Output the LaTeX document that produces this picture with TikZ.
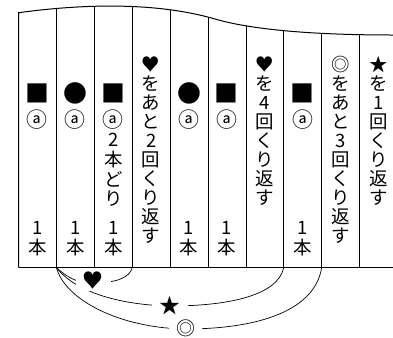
\documentclass[tikz,border=0pt]{standalone}
\usepackage{fontspec}
\newfontfamily\cjk{Noto Sans CJK JP}
\newlength\vpitch
\setlength\vpitch{19.1bp}
\newcommand\vcell[1]{\hbox to 20bp{\hss\vbox to \vpitch{\vss\hbox{#1}\vss}\hss}}
\def\vstack#1{\vbox{\offinterlineskip\vstackA#1\relax}}
\def\vstackA#1{\ifx#1\relax\else\vcell{#1}\expandafter\vstackA\fi}
\begin{document}
\begin{tikzpicture}[x=1bp,y=-1bp,
  every node/.style={inner sep=0pt},
  txt/.style={font=\cjk\fontsize{18.5}{19}\selectfont, anchor=north},
  sym/.style={font=\cjk\fontsize{24}{24}\selectfont},
  circ/.style={font=\cjk\fontsize{21}{21}\selectfont},
  border/.style={line width=1bp},
  inner/.style={line width=0.7bp},
  conn/.style={line width=0.7bp},
  lab/.style={font=\cjk\fontsize{21}{21}\selectfont, fill=white, inner xsep=7bp, inner ysep=1bp}]
\useasboundingbox (0,0) rectangle (393,338);
% columns
\begin{scope}
  \clip (18.5,270) -- (18.5,12.7) .. controls (90,3) and (160,3) .. (215,19)
        .. controls (255,30.6) and (320,35) .. (393,35) -- (393,270) -- cycle;
  \foreach \x in {56.4,94.3,132.2,170.1,208,245.9,283.8,321.7,359.6}
    \draw[inner] (\x,0) -- (\x,267.5);
\end{scope}
\draw[border] (18.5,267.5) -- (18.5,12.7) .. controls (90,3) and (160,3) .. (215,19)
      .. controls (255,30.6) and (320,35) .. (393,35);
\draw[border] (18.5,267.5) -- (393,267.5);
% coordinates at column bottoms
\coordinate (b1) at (56.4,267.5);
\coordinate (b3) at (132.2,267.5);
\coordinate (b7) at (283.8,267.5);
\coordinate (b8) at (321.7,267.5);
% symbols row
\node[sym] (s1) at (37.45,93) {■};
\node[sym] (s2) at (75.35,93) {●};
\node[sym] (s3) at (113.25,93) {■};
\node[sym] (s5) at (189.05,93) {●};
\node[sym] (s6) at (226.95,93) {■};
\node[sym] (s8) at (302.75,93) {■};
% circled a
\node[circ] (a1) at (37.45,120) {ⓐ};
\node[circ] (a2) at (75.35,120) {ⓐ};
\node[circ] (a5) at (189.05,120) {ⓐ};
\node[circ] (a6) at (226.95,120) {ⓐ};
\node[circ] (a8) at (302.75,120) {ⓐ};
% column 3 text
\node[circ] (a3) at (113.25,120) {ⓐ};
\node[txt] (t3) at (113.25,130) {\setlength\vpitch{19.5bp}\vstack{2本どり}};
% long vertical texts
\node[txt] (t4) at (151.15,54.5) {\vstack{♥をあと2回くり返す}};
\node[txt] (t7) at (264.85,54.5) {\vstack{♥を4回くり返す}};
\node[txt] (t9) at (340.65,54.5) {\vstack{◎をあと3回くり返す}};
\node[txt] (t10) at (378.5,54.5) {\vstack{★を1回くり返す}};
% bottom 1本
\node[txt] (n1) at (37.45,218.5) {\setlength\vpitch{19bp}\vstack{1本}};
\node[txt] (n2) at (75.35,218.5) {\setlength\vpitch{19bp}\vstack{1本}};
\node[txt] (n3) at (113.25,218.5) {\setlength\vpitch{19bp}\vstack{1本}};
\node[txt] (n5) at (189.05,218.5) {\setlength\vpitch{19bp}\vstack{1本}};
\node[txt] (n6) at (226.95,218.5) {\setlength\vpitch{19bp}\vstack{1本}};
\node[txt] (n8) at (302.75,218.5) {\setlength\vpitch{19bp}\vstack{1本}};
% connectors
\draw[conn] (b1) .. controls (70,280) and (80,283) .. (93,283)
            .. controls (115,283) and (130,278) .. (b3);
\draw[conn] (b1) .. controls (75,292) and (120,305) .. (170,306)
            .. controls (230,306) and (278,295) .. (b7);
\draw[conn] (b1) .. controls (65,300) and (120,328) .. (185,329)
            .. controls (260,329) and (315,310) .. (b8);
\node[lab] (lh) at (93.3,281) {♥};
\node[lab, inner xsep=8bp] (ls) at (170,305.5) {★};
\node[lab, font=\cjk\fontsize{19}{19}\selectfont] (lc) at (185.5,328) {◎};
\end{tikzpicture}
\end{document}
